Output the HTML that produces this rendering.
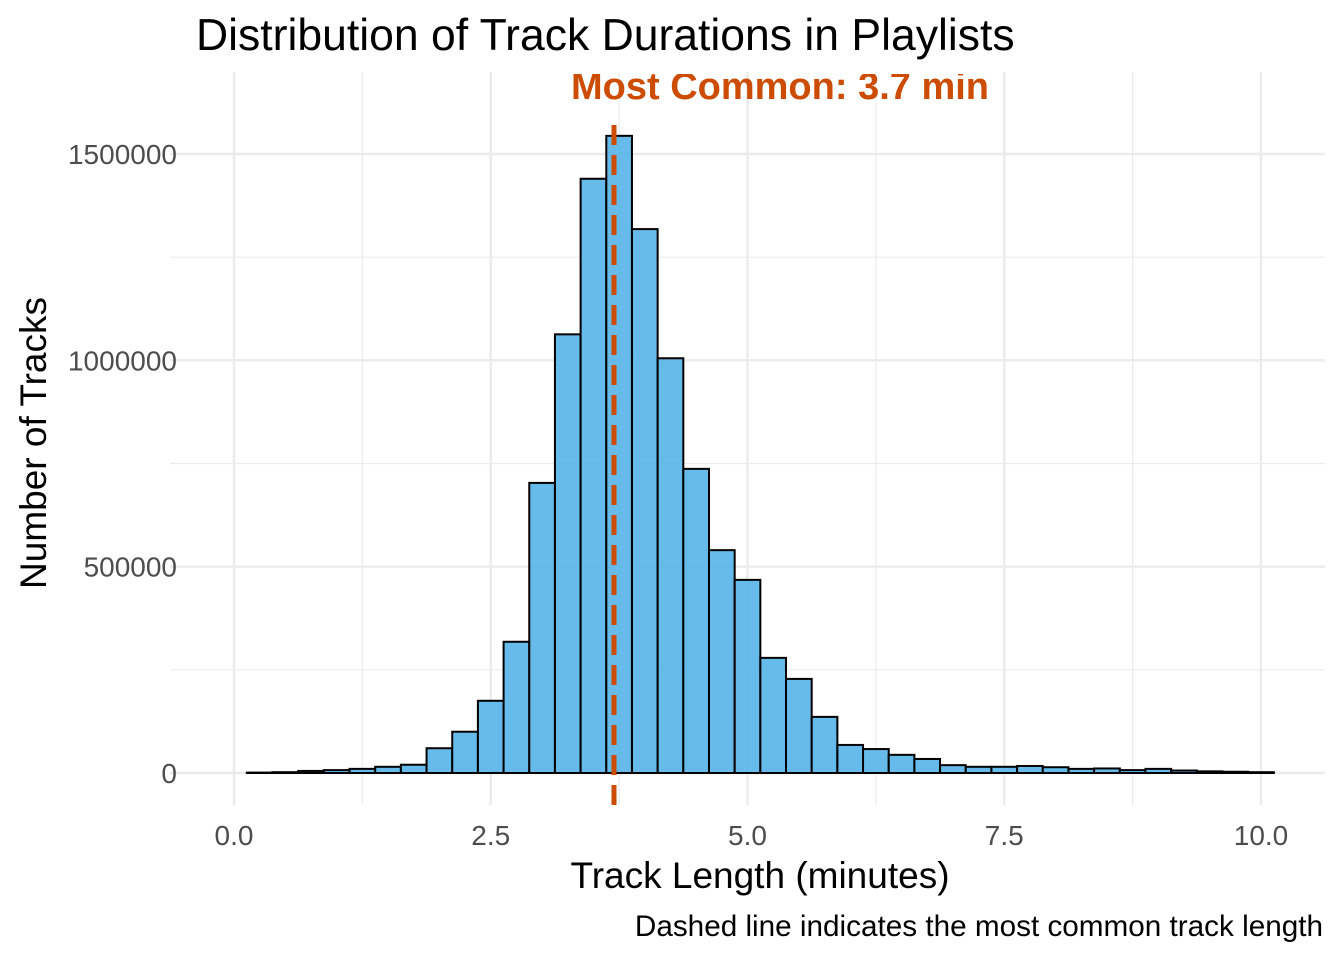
<!DOCTYPE html>
<html><head><meta charset="utf-8"><style>
body{margin:0;background:#fff;}
svg{display:block;font-family:"Liberation Sans",Arial,sans-serif;}
</style></head><body>
<svg id="chart" width="1344" height="960">
<defs><clipPath id="panel"><rect x="160" y="74" width="1180" height="738"/></clipPath></defs>
<text x="196" y="50" font-size="44.5" fill="#000">Distribution of Track Durations in Playlists</text>
<g id="grid"></g>
<g id="bars" clip-path="url(#panel)"></g>
<g id="axes"></g>
<text x="760" y="888" font-size="37" text-anchor="middle" fill="#000">Track Length (minutes)</text>
<text transform="translate(46,443) rotate(-90)" font-size="37" text-anchor="middle" fill="#000">Number of Tracks</text>
<text x="1323" y="936" font-size="29.7" text-anchor="end" fill="#000">Dashed line indicates the most common track length</text>
</svg>
<script>
const binCenters=[0.25,0.5,0.75,1,1.25,1.5,1.75,2,2.25,2.5,2.75,3,3.25,3.5,3.75,4,4.25,4.5,4.75,5,5.25,5.5,5.75,6,6.25,6.5,6.75,7,7.25,7.5,7.75,8,8.25,8.5,8.75,9,9.25,9.5,9.75,10];
const counts=[1000,2000,5000,7000,10000,15000,20000,60000,100000,175000,318000,703000,1063000,1440000,1544000,1318000,1005000,737000,540000,468000,279000,228000,136000,68000,58000,44000,34000,19000,15000,15000,17000,14000,10000,11000,7000,10000,6000,4000,3000,2000];
const binWidth=0.25;
const modeValue=3.7;
const xTicks=[0,2.5,5,7.5,10];
const xTickLabels=["0.0","2.5","5.0","7.5","10.0"];
const yTicks=[0,500000,1000000,1500000];
const yTickLabels=["0","500000","1000000","1500000"];

const NS="http://www.w3.org/2000/svg";
const X=v=>234+v*102.7;
const Y=v=>773-v*619/1500000;
const px0=170,px1=1325,py0=72,py1=805;
function mk(tag,attrs,parent){const e=document.createElementNS(NS,tag);for(const k in attrs)e.setAttribute(k,attrs[k]);document.getElementById(parent).appendChild(e);return e;}
for(let v=0;v<=10;v+=1.25){
  const major=xTicks.includes(v);
  const l=mk('line',{x1:X(v),x2:X(v),y1:py0,y2:py1,stroke:'#ebebeb','stroke-width':major?2.4:1.2},'grid');
  
  
}
for(let v=0;v<=1500000;v+=250000){
  const major=yTicks.includes(v);
  const l=mk('line',{x1:px0,x2:px1,y1:Y(v),y2:Y(v),stroke:'#ebebeb','stroke-width':major?2.4:1.2},'grid');
  
  
}
binCenters.forEach((c,i)=>{
  const x0=X(c-binWidth/2),x1=X(c+binWidth/2);
  const r=mk('rect',{x:x0,y:Y(counts[i]),width:x1-x0,height:Y(0)-Y(counts[i]),fill:'#56B4E9','fill-opacity':0.9,stroke:'#000','stroke-width':2},'bars');
  
  
});
const ml=mk('line',{x1:X(modeValue),x2:X(modeValue),y1:125,y2:py1,stroke:'#CC4C02','stroke-width':5,'stroke-dasharray':'20,10'},'bars');


const mt=mk('text',{x:780,y:99,'font-size':38,'font-weight':'bold',fill:'#CC4C02','text-anchor':'middle'},'bars');
mt.textContent='Most Common: '+modeValue+' min';


xTicks.forEach((v,i)=>{
  const t=mk('text',{x:X(v),y:845,'font-size':28,fill:'#4d4d4d','text-anchor':'middle'},'axes');
  t.textContent=xTickLabels[i];
  
  
});
yTicks.forEach((v,i)=>{
  const t=mk('text',{x:177,y:Y(v)+10,'font-size':28,fill:'#4d4d4d','text-anchor':'end'},'axes');
  t.textContent=yTickLabels[i];
  
  
});
</script>
</body></html>
